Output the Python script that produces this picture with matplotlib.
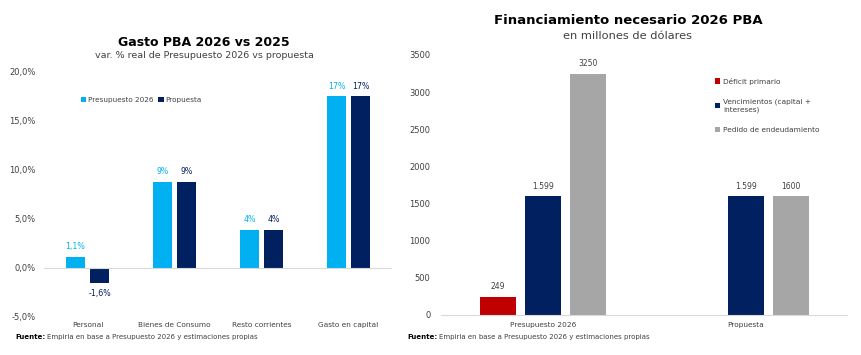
import matplotlib
matplotlib.use("Agg")
import matplotlib.pyplot as plt
import numpy as np

# ---- data ----
gasto_categories = ["Personal", "Bienes de Consumo", "Resto corrientes", "Gasto en capital"]
gasto_presupuesto = [1.1, 8.8, 3.9, 17.5]
gasto_propuesta = [-1.6, 8.8, 3.9, 17.5]
gasto_presupuesto_labels = ["1,1%", "9%", "4%", "17%"]
gasto_propuesta_labels = ["-1,6%", "9%", "4%", "17%"]
gasto_yticks = [-5, 0, 5, 10, 15, 20]
gasto_yticklabels = ["-5,0%", "0,0%", "5,0%", "10,0%", "15,0%", "20,0%"]

fin_categories = ["Presupuesto 2026", "Propuesta"]
fin_deficit = [249, np.nan]
fin_vencimientos = [1599, 1599]
fin_pedido = [3250, 1600]
fin_deficit_labels = ["249", ""]
fin_vencimientos_labels = ["1.599", "1.599"]
fin_pedido_labels = ["3250", "1600"]
fin_yticks = [0, 500, 1000, 1500, 2000, 2500, 3000, 3500]

LIGHT = "#00B0F0"
NAVY = "#002060"
RED = "#C00000"
GREY = "#A6A6A6"
TXT = "#404040"

plt.rcParams['font.family'] = ['DejaVu Sans']

fig = plt.figure(figsize=(8.62, 3.55), dpi=100)
W, H = 862, 355

def fx(px):
    return px / W
def fy(py):
    return 1 - py / H

# ---------- left chart ----------
axL = fig.add_axes([fx(44), fy(316.7), fx(392 - 44), fy(72) - fy(316.7)])
x = np.arange(len(gasto_categories))
bw = 0.22
off = 0.138
b1 = axL.bar(x - off, gasto_presupuesto, bw, color=LIGHT, label="Presupuesto 2026")
b2 = axL.bar(x + off, gasto_propuesta, bw, color=NAVY, label="Propuesta")
axL.set_xlim(-0.5, len(gasto_categories) - 0.5)
axL.set_ylim(-5, 20)
axL.set_yticks(gasto_yticks)
axL.set_yticklabels(gasto_yticklabels)
axL.set_xticks(x)
axL.set_xticklabels(gasto_categories)
axL.axhline(0, color="#D9D9D9", lw=0.8)
for s in axL.spines.values():
    s.set_visible(False)
axL.tick_params(axis='y', length=0, labelsize=6, colors=TXT, pad=6)
axL.tick_params(axis='x', length=0, labelsize=5.3, colors=TXT, pad=4)
for rect, lab, v in zip(b1, gasto_presupuesto_labels, gasto_presupuesto):
    axL.annotate(lab, (rect.get_x() + rect.get_width() / 2, v),
                 xytext=(0, 4), textcoords="offset points", ha="center", va="bottom",
                 fontsize=5.7, color=LIGHT)
for rect, lab, v in zip(b2, gasto_propuesta_labels, gasto_propuesta):
    if v >= 0:
        axL.annotate(lab, (rect.get_x() + rect.get_width() / 2, v),
                     xytext=(0, 4), textcoords="offset points", ha="center", va="bottom",
                     fontsize=5.7, color=NAVY)
    else:
        axL.annotate(lab, (rect.get_x() + rect.get_width() / 2, v),
                     xytext=(0, -4), textcoords="offset points", ha="center", va="top",
                     fontsize=5.7, color=NAVY)
axL.legend(loc="center left", bbox_to_anchor=(fx(77), fy(100)), bbox_transform=fig.transFigure,
           ncol=2, fontsize=5.2, frameon=False, handlelength=0.75, handleheight=0.75,
           handletextpad=0.25, columnspacing=0.7, labelcolor=TXT, borderpad=0)

fig.text(fx(204), fy(43), "Gasto PBA 2026 vs 2025", ha="center", va="center",
         fontsize=9, fontweight="bold", color="black")
fig.text(fx(204), fy(56), "var. % real de Presupuesto 2026 vs propuesta", ha="center",
         va="center", fontsize=6.8, color=TXT)

# ---------- right chart ----------
axR = fig.add_axes([fx(441.5), fy(315), fx(847.5 - 441.5), fy(55) - fy(315)])
xr = np.arange(len(fin_categories))
bwr = 0.177
offr = 0.222
r1 = axR.bar(xr - offr, fin_deficit, bwr, color=RED, label="Déficit primario")
r2 = axR.bar(xr, fin_vencimientos, bwr, color=NAVY, label="Vencimientos (capital +\nintereses)")
r3 = axR.bar(xr + offr, fin_pedido, bwr, color=GREY, label="Pedido de endeudamiento")
axR.set_xlim(-0.5, len(fin_categories) - 0.5)
axR.set_ylim(0, 3500)
axR.set_yticks(fin_yticks)
axR.set_xticks(xr)
axR.set_xticklabels(fin_categories)
for k, s in axR.spines.items():
    s.set_visible(k == "bottom")
axR.spines["bottom"].set_color("#D9D9D9")
axR.spines["bottom"].set_linewidth(0.8)
axR.tick_params(axis='y', length=0, labelsize=6, colors=TXT, pad=8)
axR.tick_params(axis='x', length=0, labelsize=5.3, colors=TXT, pad=5)
for bars, labs, vals in ((r1, fin_deficit_labels, fin_deficit),
                         (r2, fin_vencimientos_labels, fin_vencimientos),
                         (r3, fin_pedido_labels, fin_pedido)):
    for rect, lab, v in zip(bars, labs, vals):
        if lab and not np.isnan(v):
            axR.annotate(lab, (rect.get_x() + rect.get_width() / 2, v),
                         xytext=(0, 4), textcoords="offset points", ha="center",
                         va="bottom", fontsize=5.5, color=TXT)
axR.legend(loc="upper left", bbox_to_anchor=(fx(711), fy(74)), bbox_transform=fig.transFigure,
           ncol=1, fontsize=5.3, frameon=False, handlelength=0.75, handleheight=0.75,
           handletextpad=0.35, labelspacing=1.9, labelcolor=TXT, borderpad=0)

fig.text(fx(628), fy(20), "Financiamiento necesario 2026 PBA", ha="center", va="center",
         fontsize=9.5, fontweight="bold", color="black")
fig.text(fx(628), fy(36), "en millones de dólares", ha="center", va="center",
         fontsize=8.2, color=TXT)

# ---------- footnotes ----------
renderer = fig.canvas.get_renderer()
for xpx in (15, 407):
    t = fig.text(fx(xpx), fy(337), "Fuente:", ha="left", va="center", fontsize=5.0,
                 fontweight="bold", color="black")
    bb = t.get_window_extent(renderer=renderer)
    fig.text(bb.x1 / W + fx(2), fy(337), "Empiria en base a Presupuesto 2026 y estimaciones propias",
             ha="left", va="center", fontsize=5.0, color=TXT)

fig.savefig("out.png", dpi=100, facecolor="white")
